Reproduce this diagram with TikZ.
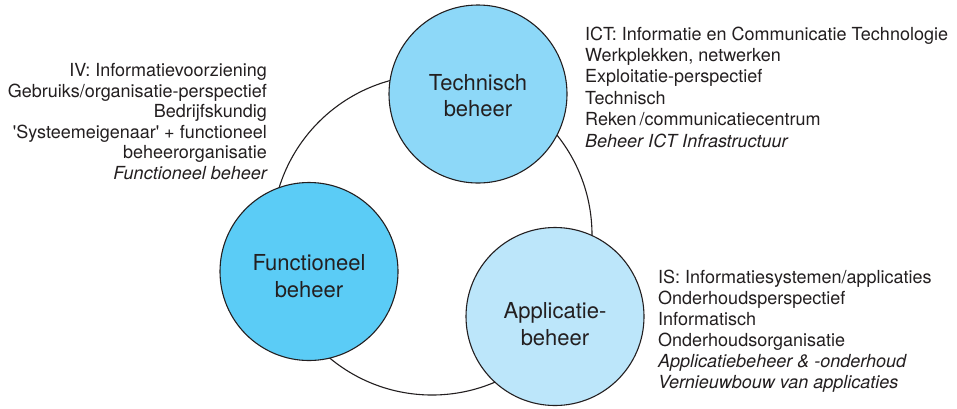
\documentclass[tikz,border=0pt]{standalone}
\usepackage{fontspec}
\setmainfont{TeX Gyre Heros}
\definecolor{ink}{HTML}{231F20}
\definecolor{techfill}{HTML}{8DD8F8}
\definecolor{funcfill}{HTML}{5BCCF6}
\definecolor{appfill}{HTML}{BCE6FA}
\begin{document}
\begin{tikzpicture}[x=1pt,y=-1pt,
  ringstyle/.style={circle,draw=ink,line width=1.1pt,inner sep=0pt,minimum size=320pt},
  areacircle/.style={circle,draw=ink,line width=1.1pt,inner sep=0pt,minimum size=178pt},
  ctext/.style={font=\fontsize{22}{26}\selectfont,text=ink,inner sep=0pt,anchor=base},
  ltext/.style={font=\fontsize{18}{21}\selectfont,text=ink,inner sep=0pt,anchor=base west},
  rtext/.style={font=\fontsize{18}{21}\selectfont,text=ink,inner sep=0pt,anchor=base east}]
\useasboundingbox (0,0) rectangle (957,408);
\fill[white] (0,0) rectangle (957,408);

\node[ringstyle] (ring) at (432,235) {};

\node[areacircle,fill=techfill] (tech) at (478,94) {};
\node[areacircle,fill=funcfill] (func) at (309,271.5) {};
\node[areacircle,fill=appfill] (app) at (555,316.5) {};

\node[ctext] (tech1) at (478,90) {Technisch};
\node[ctext] (tech2) at (478,116.5) {beheer};
\node[ctext] (func1) at (309,270.7) {Functioneel};
\node[ctext] (func2) at (309,297.7) {beheer};
\node[ctext] (app1) at (555,318) {Applicatie-};
\node[ctext] (app2) at (555,345) {beheer};

% left block
\node[rtext] (iv1) at (267,76.5) {IV: Informatievoorziening};
\node[rtext] (iv2) at (267,97.1) {Gebruiks/organisatie-perspectief};
\node[rtext] (iv3) at (267,117.7) {Bedrijfskundig};
\node[rtext] (iv4) at (267,138.3) {\textquotesingle Systeemeigenaar\textquotesingle{} + functioneel};
\node[rtext] (iv5) at (267,158.9) {beheerorganisatie};
\node[rtext] (iv6) at (267,179.5) {\itshape Functioneel beheer};

% right top block
\node[ltext] (ict1) at (585,40) {ICT: Informatie en Communicatie Technologie};
\node[ltext] (ict2) at (585,61.4) {Werkplekken, netwerken};
\node[ltext] (ict3) at (585,82.8) {Exploitatie-perspectief};
\node[ltext] (ict4) at (585,104.2) {Technisch};
\node[ltext] (ict5) at (585,125.6) {Reken\,/communicatiecentrum};
\node[ltext] (ict6) at (585,147) {\itshape Beheer ICT Infrastructuur};

% right bottom block
\node[ltext] (is1) at (658,283.5) {IS: Informatiesystemen/applicaties};
\node[ltext] (is2) at (658,304.5) {Onderhoudsperspectief};
\node[ltext] (is3) at (658,325.5) {Informatisch};
\node[ltext] (is4) at (658,346.5) {Onderhoudsorganisatie};
\node[ltext] (is5) at (658,367.5) {\itshape Applicatiebeheer \& -onderhoud};
\node[ltext] (is6) at (658,388.5) {\itshape Vernieuwbouw van applicaties};
\end{tikzpicture}
\end{document}
